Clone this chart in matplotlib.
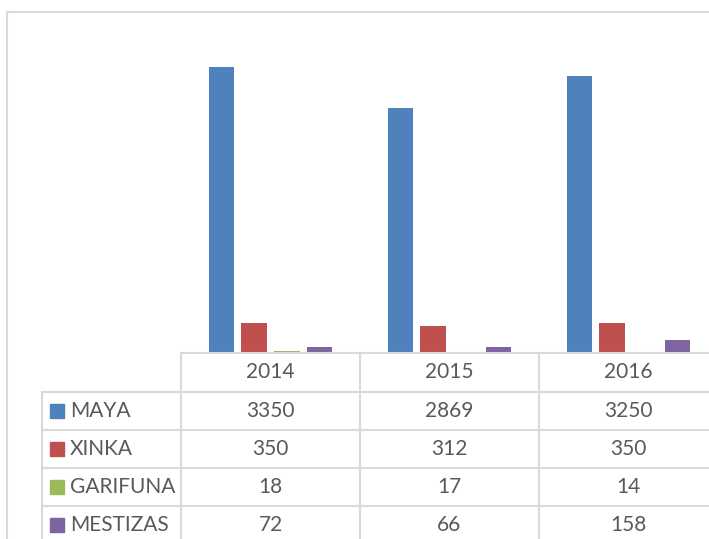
import numpy as np
import matplotlib.pyplot as plt

years = ['2014', '2015', '2016']
groups = ['MAYA', 'XINKA', 'GARIFUNA', 'MESTIZAS']
maya = [3350, 2869, 3250]
xinka = [350, 312, 350]
garifuna = [18, 17, 14]
mestizas = [72, 66, 158]
colors = ['#4F81BD', '#C0504D', '#9BBB59', '#8064A2']

W, H = 709, 539
grid = '#d9d9d9'
txt = '#595959'
plt.rcParams['font.family'] = ['Lato', 'DejaVu Sans']

fig = plt.figure(figsize=(W / 100, H / 100), dpi=100)

# bar area (pixel layout: baseline y=353, first category starts at x=181, 179 px per category)
x0, base, top = 181, 353, 11.5
ax = fig.add_axes([x0 / W, 1 - base / H, (W - x0) / W, (base - top) / H])
ax.set_xlim(-0.5, -0.5 + (W - x0) / 179)
ax.set_ylim(0, 4000)
ax.axis('off')

series = [maya, xinka, garifuna, mestizas]
xs = np.arange(len(years))
step, bw = 0.1816, 0.1425
for i, vals in enumerate(series):
    ax.bar(xs + (i - 1.5) * step, vals, width=bw, color=colors[i],
           linewidth=0)

# overlay in pixel coordinates for table and border
ov = fig.add_axes([0, 0, 1, 1])
ov.set_xlim(0, W)
ov.set_ylim(H, 0)
ov.axis('off')
ov.patch.set_alpha(0)

lw = 1.5
# outer chart border (cropped on right and bottom)
ov.plot([7, 7, W + 5], [H + 5, 11.5, 11.5], color=grid, lw=lw)

# table grid
ov.plot([x0, W], [base, base], color=grid, lw=lw)
row_y = [392, 430, 468, 506]
for y in row_y:
    ov.plot([42, W], [y, y], color=grid, lw=lw)
ov.plot([42, 42], [392, H], color=grid, lw=lw)
col_x = [x0, 360, 539]
for x in col_x:
    ov.plot([x, x], [base, H], color=grid, lw=lw)

# header
for j, yr in enumerate(years):
    ov.text(col_x[j] + 89.5, (base + 392) / 2, yr, ha='center', va='center',
            fontsize=15, color=txt)

# rows
for i, (name, vals) in enumerate(zip(groups, series)):
    yc = row_y[i] + 19
    ov.add_patch(plt.Rectangle((50, yc - 7), 14, 14, color=colors[i]))
    ov.text(70, yc, name, ha='left', va='center', fontsize=15, color=txt)
    for j, v in enumerate(vals):
        ov.text(col_x[j] + 89.5, yc, str(v), ha='center', va='center',
                fontsize=15, color=txt)

fig.savefig('out.png', dpi=100)
